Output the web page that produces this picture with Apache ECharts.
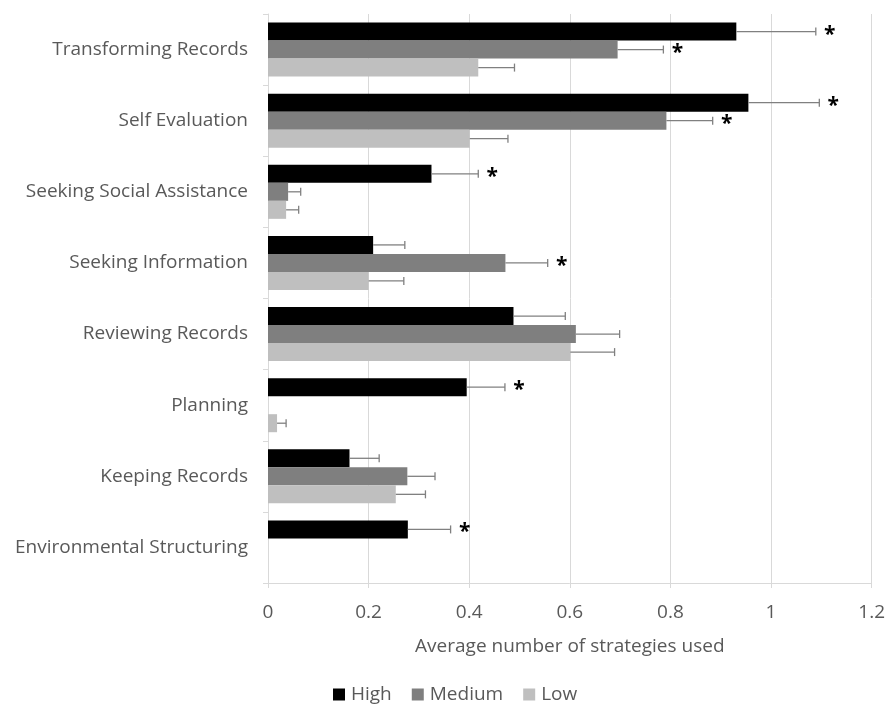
<!DOCTYPE html>
<html>
<head>
<meta charset="utf-8">
<script src="https://cdn.jsdelivr.net/npm/echarts@6/dist/echarts.min.js"></script>
<style>html,body{margin:0;padding:0;background:#fff;}#c{width:888px;height:704px;}</style>
</head>
<body>
<div id="c"></div>
<script>
var categories = ['Transforming Records','Self Evaluation','Seeking Social Assistance','Seeking Information','Reviewing Records','Planning','Keeping Records','Environmental Structuring'];
var seriesNames = ['High','Medium','Low'];
var high = [0.931, 0.955, 0.325, 0.209, 0.488, 0.395, 0.162, 0.278];
var highErr = [0.158, 0.141, 0.093, 0.063, 0.103, 0.076, 0.059, 0.085];
var medium = [0.695, 0.792, 0.040, 0.472, 0.612, 0, 0.277, 0];
var mediumErr = [0.091, 0.092, 0.025, 0.084, 0.087, null, 0.055, null];
var low = [0.418, 0.401, 0.036, 0.200, 0.601, 0.018, 0.254, 0];
var lowErr = [0.072, 0.076, 0.025, 0.070, 0.088, 0.018, 0.059, null];
var highSig = [1, 1, 1, 0, 0, 1, 0, 1];
var mediumSig = [1, 1, 0, 1, 0, 0, 0, 0];
var lowSig = [0, 0, 0, 0, 0, 0, 0, 0];
var xTicks = [0, 0.2, 0.4, 0.6, 0.8, 1, 1.2];

var colors = ['#000000', '#7f7f7f', '#bfbfbf'];
var values = [high, medium, low];
var errs = [highErr, mediumErr, lowErr];
var sigs = [highSig, mediumSig, lowSig];
var GAP = 0.24;
var FONT = '"Open Sans", sans-serif';
var FS = 19;

var errData = [];
for (var s = 0; s < 3; s++) {
  for (var i = 0; i < categories.length; i++) {
    if (errs[s][i] != null) errData.push([values[s][i], i, errs[s][i], s, sigs[s][i]]);
  }
}

var chart = echarts.init(document.getElementById('c'));
var series = seriesNames.map(function (n, s) {
  return {
    name: n, type: 'bar', data: values[s],
    barGap: '0%', barCategoryGap: (GAP * 100) + '%',
    itemStyle: { color: colors[s] },
    silent: true, animation: false
  };
});
series.push({
  type: 'custom', data: errData, animation: false, silent: true, z: 5,
  encode: { x: [0, 2], y: 1 },
  renderItem: function (params, api) {
    var v = api.value(0), cat = api.value(1), e = api.value(2), s = api.value(3), sig = api.value(4);
    var p0 = api.coord([v, cat]);
    var p1 = api.coord([v + e, cat]);
    var band = api.size([0, 1])[1];
    var bw = band * (1 - GAP) / 3;
    var y = p0[1] + (s - 1) * bw;
    var st = { stroke: '#808080', lineWidth: 1.3 };
    var children = [
      { type: 'line', shape: { x1: p0[0], y1: y, x2: p1[0], y2: y }, style: st },
      { type: 'line', shape: { x1: p1[0], y1: y - 4, x2: p1[0], y2: y + 4 }, style: st }
    ];
    if (sig) {
      children.push({ type: 'text', x: p1[0] + 14, y: y + 3, style: { text: '*', font: 'bold 21px ' + FONT, fill: '#000', align: 'center', verticalAlign: 'middle' } });
    }
    return { type: 'group', children: children };
  }
});

chart.setOption({
  animation: false,
  grid: { left: 268, right: 16, top: 14, bottom: 121, containLabel: false },
  legend: {
    data: seriesNames, bottom: -5, left: 328, itemWidth: 12, itemHeight: 12, itemGap: 20, icon: 'rect',
    textStyle: { fontFamily: FONT, fontSize: FS, color: '#595959', padding: [0, 0, 0, 1] }
  },
  xAxis: {
    type: 'value', min: 0, max: 1.2, interval: 0.2,
    name: 'Average number of strategies used', nameLocation: 'middle', nameGap: 54,
    nameTextStyle: { fontFamily: FONT, fontSize: FS, color: '#595959' },
    axisLine: { show: true, lineStyle: { color: '#d9d9d9', width: 1 } },
    axisTick: { show: true, length: 5, lineStyle: { color: '#d9d9d9' } },
    axisLabel: { fontFamily: FONT, fontSize: FS, color: '#595959', margin: 20,
      formatter: function (v) { var m = xTicks.filter(function (t) { return Math.abs(t - v) < 1e-9; }); return m.length ? String(m[0]) : ''; } },
    splitLine: { show: true, lineStyle: { color: '#d9d9d9', width: 1 } }
  },
  yAxis: {
    type: 'category', data: categories, inverse: true,
    axisLine: { show: true, lineStyle: { color: '#d9d9d9' } },
    axisTick: { show: true, length: 5, lineStyle: { color: '#d9d9d9' } },
    axisLabel: { fontFamily: FONT, fontSize: FS, color: '#595959', margin: 20 }
  },
  series: series
});
</script>
</body>
</html>
